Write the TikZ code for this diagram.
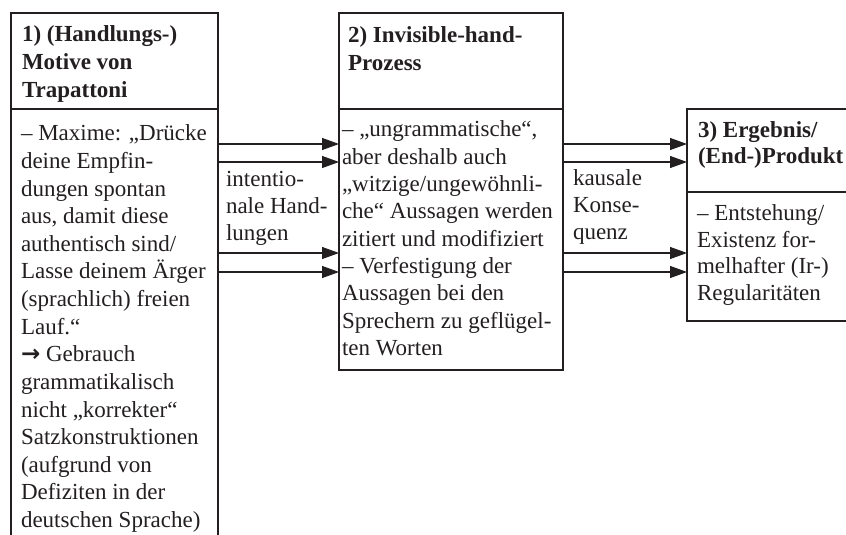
\documentclass[tikz,border=0pt]{standalone}
\usepackage{fontspec}
\setmainfont{Liberation Serif}
\newfontfamily\symfont{DejaVu Sans}
\usetikzlibrary{arrows.meta}
\definecolor{ink}{HTML}{231F20}
\newcommand\mlines[2]{\vtop{\baselineskip=#1bp\lineskiplimit=-100pt\lineskip=0pt\halign{##\hfil\cr #2\crcr}}}
\newcommand\bigarrow{{\symfont\bfseries\fontsize{23bp}{23bp}\selectfont →}}
\begin{document}
\begin{tikzpicture}[x=1bp,y=-1bp,
  box/.style={draw=ink, line width=1.1bp, inner sep=0pt, outer sep=0pt, anchor=north west},
  txt/.style={inner sep=0pt, outer sep=0pt, anchor=base west, text=ink, font=\fontsize{23bp}{27.4bp}\selectfont},
  arr/.style={draw=ink, line width=1.1bp, -{Triangle[length=17bp,width=12bp]}}]
\useasboundingbox (0,0) rectangle (846,535);
% boxes
\node[box, minimum width=207bp, minimum height=96bp] (h1) at (11,13) {};
\node[box, minimum width=207bp, minimum height=431bp] (b1) at (11,109) {};
\node[box, minimum width=224bp, minimum height=96bp] (h2) at (339,13) {};
\node[box, minimum width=224bp, minimum height=261bp] (b2) at (339,109) {};
\node[box, minimum width=162bp, minimum height=83bp] (h3) at (687,109) {};
\node[box, minimum width=162bp, minimum height=129bp] (b3) at (687,192) {};
% texts
\node[txt] (t1) at (22,42) {\bfseries\mlines{28}{1) (Handlungs-)\cr Motive von\cr Trapattoni}};
\node[txt] (t1b) at (21,141) {\mlines{27.6}{– Maxime: „Drücke\cr deine Empfin-\cr dungen spontan\cr aus, damit diese\cr authentisch sind/\cr Lasse deinem Ärger\cr (sprachlich) freien\cr Lauf.“\cr \bigarrow\ Gebrauch\cr grammatikalisch\cr nicht „korrekter“\cr Satzkonstruktionen\cr (aufgrund von\cr Defiziten in der\cr deutschen Sprache)}};
\node[txt] (t2) at (348,43) {\bfseries\mlines{28}{2) Invisible-hand-\cr Prozess}};
\node[txt] (t2b) at (342,137) {\mlines{27.3}{– „ungrammatische“,\cr aber deshalb auch\cr „witzige/ungewöhnli-\cr che“ Aussagen werden\cr zitiert und modifiziert\cr – Verfestigung der\cr Aussagen bei den\cr Sprechern zu geflügel-\cr ten Worten}};
\node[txt] (t3) at (698,138) {\bfseries\mlines{26}{3) Ergebnis/\cr (End-)Produkt}};
\node[txt] (t3b) at (697,221) {\mlines{26.4}{– Entstehung/\cr Existenz for-\cr melhafter (Ir-)\cr Regularitäten}};
\node[txt] (l1) at (226,187) {\mlines{26.8}{intentio-\cr nale Hand-\cr lungen}};
\node[txt] (l2) at (573,186) {\mlines{27}{kausale\cr Konse-\cr quenz}};
% arrow levels
\coordinate (ya) at (0,144);
\coordinate (yb) at (0,162);
\coordinate (yc) at (0,253);
\coordinate (yd) at (0,272);
\foreach \y in {ya,yb,yc,yd}{
  \draw[arr] (b1.east |- \y) -- (b2.west |- \y);
  \draw[arr] (b2.east |- \y) -- (b3.west |- \y);
}
\end{tikzpicture}
\end{document}
